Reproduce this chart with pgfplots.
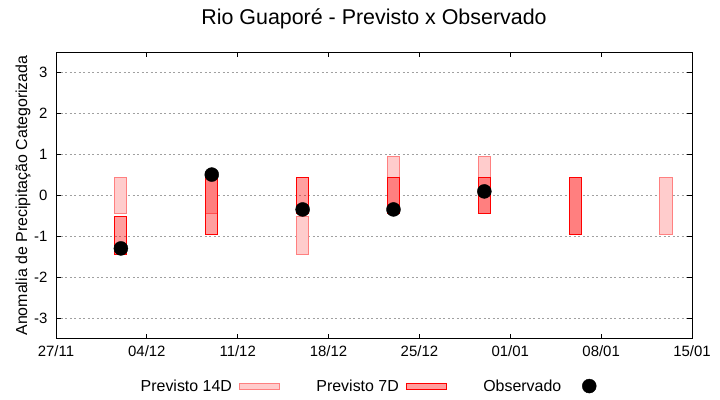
\documentclass[border=0pt]{standalone}
\usepackage{fontspec}
\setmainfont{Liberation Sans}
\usepackage{pgfplots}
\pgfplotsset{compat=1.18}

\definecolor{c14}{HTML}{FFCCCC}
\definecolor{c14b}{HTML}{FF8080}
\definecolor{grade}{HTML}{A0A0A0}

% caixa flutuante: estilo, centro (dias desde 27/11), minimo, maximo
\newcommand\caixa[4]{%
  \pgfmathsetmacro\xa{#2-0.47}\pgfmathsetmacro\xb{#2+0.47}%
  \addplot[#1] coordinates {(\xa,#3) (\xb,#3) (\xb,#4) (\xa,#4)} -- cycle;}

\begin{document}
\begin{tikzpicture}
\useasboundingbox (0,0) rectangle (720bp,400bp);
\begin{axis}[
  at={(56bp,61bp)}, anchor=south west,
  scale only axis, width=636bp, height=287bp,
  xmin=0, xmax=49, ymin=-3.5, ymax=3.5,
  xtick={0,7,...,49},
  xticklabels={27/11,04/12,11/12,18/12,25/12,01/01,08/01,15/01},
  ytick={-3,...,3}, yticklabels={-3,-2,-1,0,1,2,3},
  major tick length=5bp, tick style={black, line width=1bp},
  axis line style={line width=1bp},
  ymajorgrids, grid style={grade, line width=1bp, dash pattern=on 2bp off 2.5bp},
  tick label style={font=\fontsize{15}{18}\selectfont},
  xticklabel style={yshift=-3bp},
  yticklabel style={xshift=-5bp},
  title={Rio Guaporé - Previsto x Observado},
  title style={at={(0.5,1)}, anchor=base, yshift=22bp, font=\fontsize{21.5}{25}\selectfont},
  ylabel={Anomalia de Precipitação Categorizada},
  every axis y label/.style={at={(axis description cs:-0.0456,0.5)}, rotate=90, anchor=base, font=\fontsize{16}{19}\selectfont},
  legend style={at={(0.5,-0.164)}, anchor=center, draw=none, fill=none,
    font=\fontsize{16}{19}\selectfont,
    /tikz/every even column/.append style={column sep=34bp}},
  legend columns=3, legend plot pos=right,
  p14/.style={fill=c14, draw=c14b, line width=1bp, forget plot},
  p7/.style={fill=red, fill opacity=0.375, draw=red, line width=1bp, forget plot},
]
% Previsto 14D
\caixa{p14}{5}{-0.44}{0.44}
\caixa{p14}{12}{-0.44}{0.44}
\caixa{p14}{19}{-1.44}{-0.51}
\caixa{p14}{26}{-0.44}{0.95}
\caixa{p14}{33}{-0.44}{0.95}
\caixa{p14}{40}{-0.95}{0.44}
\caixa{p14}{47}{-0.95}{0.44}
% Previsto 7D
\caixa{p7}{5}{-1.44}{-0.51}
\caixa{p7}{12}{-0.95}{0.44}
\caixa{p7}{19}{-0.44}{0.44}
\caixa{p7}{26}{-0.44}{0.44}
\caixa{p7}{33}{-0.44}{0.44}
\caixa{p7}{40}{-0.95}{0.44}
% Observado
\addplot[only marks, mark=*, mark size=7bp, black, forget plot]
  coordinates {(5,-1.29) (12,0.51) (19,-0.34) (26,-0.34) (33,0.10)};

\addlegendimage{legend image code/.code={\path[draw=none, fill=none] (-6bp,-7bp) rectangle (40bp,7bp);
  \draw[fill=c14, draw=c14b, line width=1bp] (0bp,-3bp) rectangle (40bp,3bp);}}
\addlegendentry{Previsto 14D}
\addlegendimage{legend image code/.code={\path[draw=none, fill=none] (-6bp,-7bp) rectangle (40bp,7bp);
  \draw[fill=red, fill opacity=0.375, draw=red, line width=1bp] (0bp,-3bp) rectangle (40bp,3bp);}}
\addlegendentry{Previsto 7D}
\addlegendimage{legend image code/.code={\path[draw=none, fill=none] (-6bp,-7bp) rectangle (40bp,7bp);
  \fill[black] (20bp,0bp) circle (7bp);}}
\addlegendentry{Observado}
\end{axis}
\end{tikzpicture}
\end{document}
